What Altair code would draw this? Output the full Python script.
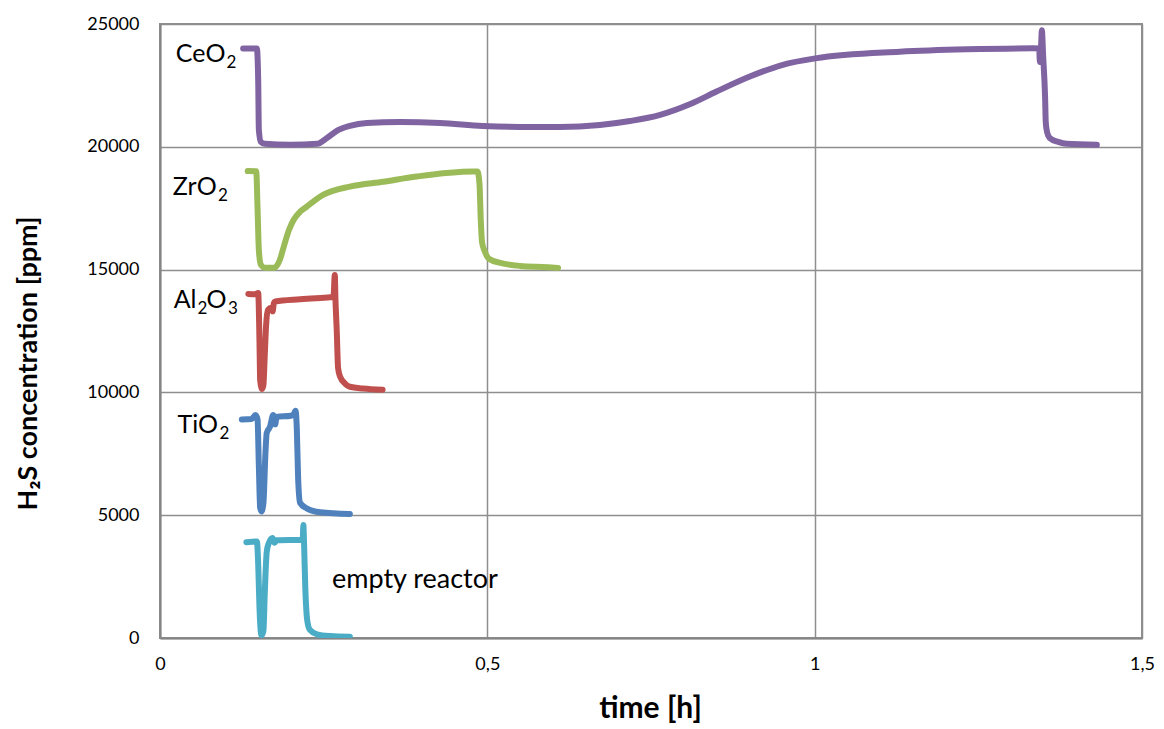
import altair as alt
import pandas as pd

# ---- data (time in h, H2S concentration in ppm) ----
ceo2_t = [0.127, 0.148, 0.150, 0.151, 0.154, 0.160, 0.199, 0.240, 0.255, 0.270, 0.290, 0.316,
          0.367, 0.428, 0.493, 0.550, 0.611, 0.672, 0.718, 0.764, 0.810, 0.850, 0.901, 0.950,
          1.001, 1.130, 1.232, 1.334, 1.343, 1.344, 1.346, 1.347, 1.349, 1.352, 1.353, 1.355,
          1.359, 1.372, 1.385, 1.431]
ceo2_v = [24000, 24000, 22700, 20690, 20200, 20120, 20080, 20120, 20360, 20650, 20850, 20970,
          21010, 20970, 20850, 20810, 20810, 20890, 21050, 21300, 21740, 22250, 22860, 23330,
          23600, 23870, 23970, 24010, 24000, 23450, 24200, 24750, 23700, 22000, 21000, 20600,
          20360, 20200, 20120, 20080]

zro2_t = [0.134, 0.147, 0.149, 0.151, 0.154, 0.160, 0.175, 0.183, 0.189, 0.197, 0.204, 0.214,
          0.224, 0.249, 0.290, 0.341, 0.392, 0.478, 0.485, 0.488, 0.490, 0.492, 0.496, 0.503,
          0.520, 0.550, 0.593, 0.608]
zro2_v = [19010, 19000, 17500, 15800, 15200, 15080, 15080, 15390, 15930, 16610, 17020, 17360,
          17560, 18040, 18380, 18580, 18790, 18990, 18990, 18500, 17000, 16100, 15750, 15430,
          15270, 15150, 15100, 15070]

al2o3_t = [0.135, 0.145, 0.150, 0.152, 0.153, 0.156, 0.158, 0.160, 0.162, 0.165, 0.170, 0.172,
           0.174, 0.176, 0.214, 0.260, 0.265, 0.267, 0.268, 0.270, 0.272, 0.275, 0.283, 0.290,
           0.310, 0.340]
al2o3_v = [14010, 14000, 14050, 12000, 10500, 10140, 10300, 11500, 12700, 13360, 13450, 13300,
           13640, 13700, 13790, 13870, 13880, 14780, 13800, 12500, 11000, 10650, 10350, 10230,
           10160, 10110]

tio2_t = [0.125, 0.140, 0.146, 0.149, 0.151, 0.153, 0.155, 0.158, 0.161, 0.163, 0.168, 0.173,
          0.174, 0.176, 0.178, 0.200, 0.204, 0.207, 0.209, 0.211, 0.214, 0.224, 0.245, 0.290]
tio2_v = [8900, 8920, 9080, 8900, 7000, 5300, 5150, 5500, 7500, 8350, 8600, 9080,
          9050, 8700, 9000, 9050, 9100, 9250, 8500, 6500, 5500, 5280, 5120, 5050]

empty_t = [0.132, 0.148, 0.150, 0.152, 0.155, 0.158, 0.160, 0.163, 0.166, 0.172, 0.175, 0.178,
           0.218, 0.219, 0.220, 0.222, 0.225, 0.229, 0.240, 0.260, 0.290]
empty_v = [3900, 3930, 3000, 1200, 100, 300, 1800, 3500, 3850, 4070, 3880, 3980,
           4000, 4600, 3900, 2000, 700, 330, 150, 80, 50]

series = ["CeO2", "ZrO2", "Al2O3", "TiO2", "empty reactor"]
colors = ["#8064A2", "#9BBB59", "#C0504D", "#4F81BD", "#4BACC6"]

# curve labels, split into normal and subscript pieces
piece_text = ["CeO", "2", "ZrO", "2", "Al", "2", "O", "3", "TiO", "2", "empty reactor"]
piece_x = [0.0999, 0.1016, 0.0866, 0.0886, 0.0558, 0.0573, 0.0710, 0.1039, 0.0886, 0.0909, 0.2627]
piece_y = [23470, 23470, 18040, 18040, 13420, 13420, 13420, 13420, 8330, 8330, 2020]
piece_kind = ["base_r", "sub", "base_r", "sub", "base_r", "sub", "base_l", "sub",
              "base_r", "sub", "plain"]

# ---- build tables ----
rows = []
for name, ts, vs in zip(series, [ceo2_t, zro2_t, al2o3_t, tio2_t, empty_t],
                        [ceo2_v, zro2_v, al2o3_v, tio2_v, empty_v]):
    for i, (t, v) in enumerate(zip(ts, vs)):
        rows.append({"series": name, "t": t, "v": v, "i": i})
df = pd.DataFrame(rows)

labels = pd.DataFrame({"text": piece_text, "t": piece_x, "v": piece_y, "kind": piece_kind})

FONT = "Lato"

x_scale = alt.Scale(domain=[0, 1.5], nice=False, zero=False)
y_scale = alt.Scale(domain=[0, 25000], nice=False)

lines = alt.Chart(df).mark_line(
    strokeWidth=6, strokeCap="round", strokeJoin="round", interpolate="monotone", clip=True
).encode(
    x=alt.X("t:Q", scale=x_scale,
            axis=alt.Axis(values=[0, 0.5, 1, 1.5],
                          labelExpr="replace(format(datum.value, '~g'), '.', ',')",
                          title="time [h]", titleFontSize=30, titleFontWeight="bold",
                          titleFont=FONT, titleColor="#000000",
                          titleX=490, titleY=70, titleAlign="center", titleBaseline="middle",
                          labelFont=FONT, labelFontSize=18, labelColor="#000000",
                          labelPadding=17, labelFlush=False, ticks=False, tickSize=0,
                          grid=True, gridColor="#8e8e8e", gridWidth=1.5,
                          domainColor="#858585", domainWidth=2)),
    y=alt.Y("v:Q", scale=y_scale,
            axis=alt.Axis(values=[0, 5000, 10000, 15000, 20000, 25000], format="d",
                          title="H₂S concentration [ppm]", titleFontSize=27,
                          titleFontWeight="bold", titleFont=FONT, titleColor="#000000",
                          titleAngle=270, titleX=-132, titleY=339, titleAlign="center",
                          titleBaseline="middle",
                          labelFont=FONT, labelFontSize=18, labelColor="#000000",
                          labelPadding=21, labelFlush=False, ticks=False, tickSize=0,
                          grid=True, gridColor="#8e8e8e", gridWidth=1.5,
                          domainColor="#858585", domainWidth=2)),
    color=alt.Color("series:N", scale=alt.Scale(domain=series, range=colors), legend=None),
    detail="series:N",
    order="i:Q",
)

enc = dict(x=alt.X("t:Q", scale=x_scale), y=alt.Y("v:Q", scale=y_scale), text="text:N")
base = alt.Chart(labels)

base_r = base.transform_filter("datum.kind == 'base_r'").mark_text(
    align="right", baseline="alphabetic", font=FONT, fontSize=25, color="#000000"
).encode(**enc)
base_l = base.transform_filter("datum.kind == 'base_l'").mark_text(
    align="left", baseline="alphabetic", font=FONT, fontSize=25, color="#000000"
).encode(**enc)
subs = base.transform_filter("datum.kind == 'sub'").mark_text(
    align="left", baseline="alphabetic", font=FONT, fontSize=17, dy=6, color="#000000"
).encode(**enc)
plain = base.transform_filter("datum.kind == 'plain'").mark_text(
    align="left", baseline="alphabetic", font=FONT, fontSize=27, color="#000000"
).encode(**enc)

chart = alt.layer(lines, base_r, base_l, subs, plain).properties(
    width=982, height=614,
    autosize=alt.AutoSizeParams(type="none"),
    padding={"left": 160, "top": 24, "right": 22, "bottom": 91},
    background="#ffffff",
).configure_view(stroke="#8e8e8e", strokeWidth=2)

chart.save("out.html", embed_options={"renderer": "svg", "actions": False})
